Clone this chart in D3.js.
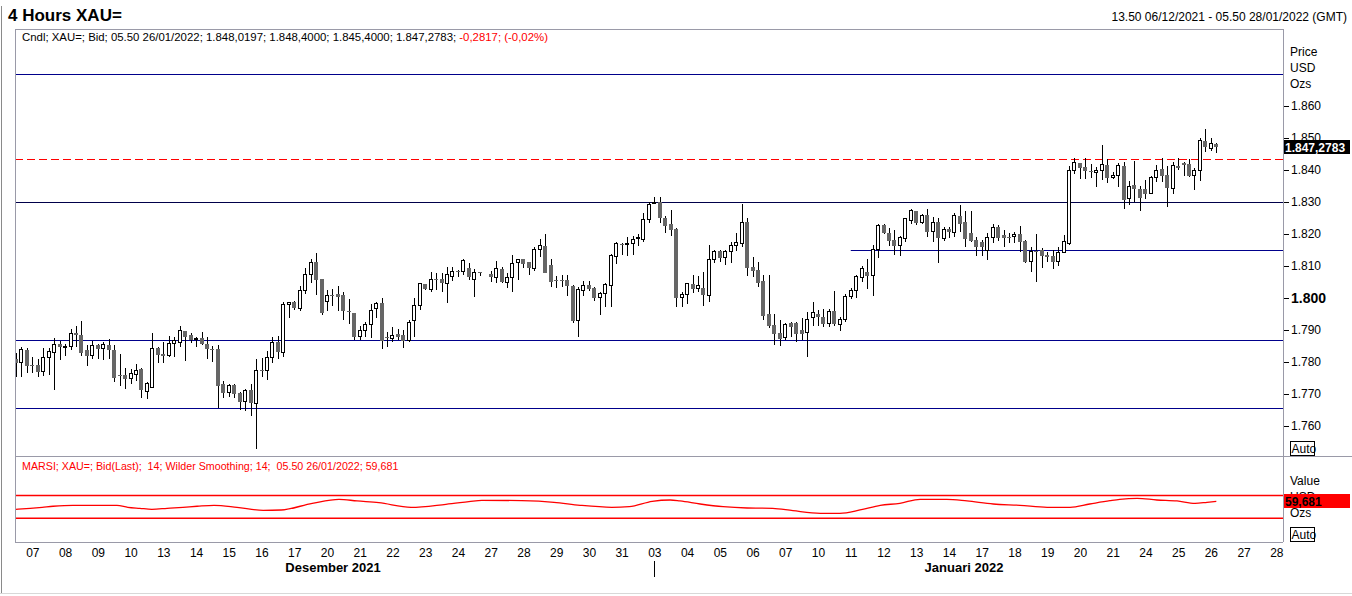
<!DOCTYPE html>
<html>
<meta charset="utf-8">
<script src="https://d3js.org/d3.v7.min.js"></script>
<style>
  body { margin: 0; background: #fff; }
  text { font-family: "Liberation Sans", Arial, sans-serif; }
</style>
<body>
<div id="chart"></div>
<script>
// 4H candles, one slot per candle (slot 86 is empty, end of 24 Dec)
var opens = [1781.0,1779.8,1783.8,1779.1,1779.1,1777.0,1781.5,1783.0,1785.6,1784.6,1784.8,1789.2,1788.5,1783.8,1782.0,1785.3,1784.2,1785.3,1783.8,1776.0,
1776.0,1774.7,1776.0,1777.8,1770.8,1772.1,1784.3,1782.5,1782.0,1785.9,1786.2,1789.7,1788.5,1787.1,1787.4,1785.6,1784.2,1784.1,1773.1,1770.4,
1772.8,1770.2,1767.6,1771.2,1767.1,1777.5,1777.3,1781.5,1786.2,1782.9,1798.0,1798.6,1796.8,1802.3,1807.4,1811.1,1805.8,1798.9,1801.0,1801.2,
1800.9,1796.0,1795.4,1787.9,1790.0,1791.8,1796.8,1798.3,1787.9,1787.4,1788.7,1788.4,1786.6,1792.9,1797.8,1804.4,1802.8,1805.8,1805.9,1804.6,
1806.7,1808.5,1808.2,1809.3,1805.8,1808.0,null,1807.5,1806.3,1809.1,1805.0,1806.5,1811.0,1812.1,1811.1,1809.1,1815.2,1816.3,1810.3,1805.5,
1805.6,1805.6,1803.9,1793.1,1802.3,1804.1,1803.2,1800.2,1801.3,1803.9,1812.9,1816.9,1816.6,1816.9,1818.6,1818.4,1824.6,1829.8,1830.1,1825.1,
1823.0,1821.6,1800.1,1801.2,1804.4,1803.0,1803.0,1800.9,1812.1,1814.7,1812.6,1814.5,1816.4,1817.1,1823.6,1809.8,1808.8,1805.3,1795.0,1791.6,
1789.2,1787.6,1792.3,1792.3,1790.0,1789.2,1794.0,1795.0,1794.0,1791.9,1795.9,1791.6,1793.4,1800.6,1802.3,1806.5,1808.2,1806.9,1815.2,1822.8,
1820.4,1818.1,1816.4,1818.7,1824.2,1827.2,1823.5,1825.9,1820.7,1823.7,1818.7,1821.6,1820.5,1825.6,1823.9,1820.4,1818.1,1817.6,1815.0,1818.9,
1822.1,1819.7,1819.0,1819.2,1820.0,1817.9,1811.4,1814.8,1815.0,1813.4,1813.2,1811.4,1814.3,1817.1,1839.8,1842.1,1840.8,1839.7,1839.3,1839.8,
1841.6,1837.6,1838.2,1841.3,1831.1,1835.3,1834.1,1834.1,1832.7,1837.7,1840.3,1838.4,1834.3,1841.3,1842.1,1841.9,1838.2,1839.8,1849.1,1846.8,
1848.02];
var highs = [1782.9,1784.8,1784.3,1781.5,1780.9,1784.3,1784.5,1787.4,1786.7,1785.6,1790.2,1791.3,1792.8,1785.3,1786.7,1785.5,1786.1,1787.2,1785.3,1782.5,
1778.0,1777.7,1779.4,1778.0,1773.6,1789.2,1784.8,1786.1,1788.1,1787.7,1791.3,1789.7,1789.0,1787.7,1789.4,1787.9,1785.0,1785.3,1774.2,1773.1,
1773.1,1770.7,1771.6,1773.0,1780.8,1781.1,1783.5,1787.9,1788.1,1798.8,1798.8,1799.2,1803.8,1809.5,1812.2,1814.0,1805.8,1802.5,1802.7,1803.7,
1801.8,1799.6,1795.4,1791.2,1792.6,1798.1,1798.8,1799.9,1789.5,1791.0,1790.2,1790.0,1793.1,1799.9,1804.8,1804.4,1808.0,1807.7,1807.7,1809.6,
1809.6,1808.7,1812.2,1811.0,1809.0,1808.2,null,1808.4,1811.6,1809.8,1807.7,1813.4,1812.2,1812.2,1811.4,1816.0,1818.4,1820.0,1812.2,1806.9,
1807.2,1807.2,1804.1,1803.5,1805.3,1805.3,1803.5,1802.0,1804.8,1813.9,1817.4,1817.1,1819.2,1819.4,1820.0,1826.5,1830.1,1831.5,1831.5,1825.6,
1827.5,1821.8,1802.0,1804.6,1807.2,1807.0,1808.0,1816.6,1815.0,1815.0,1815.0,1817.4,1820.2,1829.4,1825.1,1812.9,1811.2,1807.2,1807.2,1795.0,
1793.1,1792.1,1792.6,1792.6,1793.7,1795.7,1798.6,1796.2,1796.5,1796.5,1802.2,1794.2,1801.2,1803.2,1807.2,1810.0,1812.1,1816.6,1823.0,1823.0,
1821.8,1821.3,1819.4,1825.1,1827.8,1827.3,1826.3,1827.8,1825.4,1825.1,1822.1,1822.3,1826.7,1829.1,1827.2,1827.2,1819.0,1818.1,1820.4,1823.1,
1822.8,1821.3,1820.4,1820.5,1822.5,1818.1,1816.0,1819.9,1815.7,1814.5,1815.0,1816.0,1819.7,1841.4,1843.6,1842.3,1843.9,1841.9,1841.0,1847.8,
1843.3,1839.5,1842.1,1842.6,1836.7,1842.9,1835.0,1836.9,1838.1,1841.6,1843.9,1841.4,1842.6,1843.9,1842.6,1843.4,1840.5,1849.9,1852.8,1849.9,
1848.40];
var lows = [1775.4,1775.2,1776.7,1776.7,1775.4,1775.6,1776.0,1771.1,1780.6,1781.9,1783.6,1784.6,1781.9,1778.6,1781.0,1780.9,1780.6,1780.9,1773.6,1772.5,
1771.5,1773.2,1774.2,1768.9,1768.4,1772.1,1779.8,1779.6,1781.7,1781.7,1784.8,1780.4,1785.9,1784.6,1785.3,1780.8,1780.1,1765.5,1768.6,1769.0,
1768.6,1765.0,1764.8,1763.2,1752.8,1775.2,1774.4,1779.6,1780.9,1781.7,1793.6,1796.3,1796.0,1801.1,1804.6,1800.9,1794.7,1796.0,1797.6,1796.0,
1793.1,1791.8,1786.9,1786.9,1787.9,1787.4,1793.9,1784.0,1784.8,1786.4,1786.9,1784.3,1786.4,1787.9,1796.2,1802.5,1802.0,1802.5,1802.0,1798.3,
1805.4,1806.5,1807.2,1805.6,1800.4,1806.9,null,1805.1,1804.8,1804.6,1803.2,1802.0,1805.6,1809.3,1807.2,1808.5,1812.7,1807.9,1803.5,1803.0,
1803.5,1800.6,1792.3,1787.9,1800.6,1802.3,1799.1,1794.7,1797.3,1797.3,1810.6,1813.4,1813.1,1813.4,1816.4,1817.6,1823.3,1829.4,1823.3,1820.2,
1819.5,1797.1,1797.3,1798.1,1801.6,1802.0,1797.6,1798.9,1811.0,1811.4,1810.3,1811.0,1814.8,1816.0,1807.0,1806.7,1803.5,1793.1,1790.7,1785.3,
1785.1,1786.9,1787.9,1786.1,1786.9,1781.7,1791.3,1791.3,1790.9,1791.0,1791.3,1789.8,1792.6,1799.6,1799.9,1805.1,1802.8,1800.6,1812.4,1819.9,
1816.4,1813.4,1813.1,1817.6,1823.0,1822.8,1823.0,1819.2,1817.6,1811.0,1817.8,1818.7,1819.2,1820.5,1816.0,1817.5,1813.2,1813.2,1811.9,1817.1,
1817.8,1816.0,1817.1,1817.1,1814.3,1810.8,1808.0,1804.9,1809.3,1811.4,1809.1,1810.1,1814.2,1816.6,1838.7,1837.1,1837.2,1837.4,1834.8,1836.9,
1836.0,1837.1,1834.8,1827.8,1829.1,1829.9,1827.3,1830.9,1832.5,1836.4,1836.4,1828.3,1832.4,1840.0,1838.2,1837.7,1833.8,1836.7,1845.7,1846.0,
1845.40];
var closes = [1779.8,1784.0,1778.6,1778.6,1777.0,1781.5,1783.3,1785.6,1784.8,1785.0,1789.0,1788.3,1782.9,1782.0,1785.3,1784.1,1785.6,1783.8,1774.9,1775.7,
1774.6,1776.3,1777.5,1771.1,1773.4,1784.3,1782.2,1782.0,1785.9,1786.7,1789.7,1787.9,1787.0,1787.5,1785.6,1784.1,1784.0,1772.6,1770.4,1772.6,
1770.0,1767.6,1771.2,1767.3,1777.5,1777.3,1781.5,1786.2,1783.2,1798.1,1798.6,1797.0,1802.3,1807.4,1811.1,1805.6,1795.4,1800.9,1800.8,1800.4,
1796.0,1795.5,1787.9,1790.0,1791.8,1796.2,1798.3,1786.6,1787.7,1788.4,1787.9,1786.6,1792.4,1797.8,1804.4,1802.8,1805.8,1805.6,1804.6,1807.2,
1808.4,1808.3,1811.6,1806.5,1808.0,1807.7,null,1806.5,1809.1,1805.1,1806.5,1810.8,1812.1,1810.6,1809.5,1815.2,1816.3,1807.9,1805.1,1805.3,
1805.2,1803.9,1792.8,1802.7,1803.9,1802.7,1799.9,1801.5,1804.3,1813.4,1816.9,1816.6,1817.1,1818.3,1818.9,1824.6,1829.1,1830.0,1824.9,1822.6,
1821.3,1799.9,1801.2,1804.4,1802.8,1803.8,1800.9,1812.1,1814.5,1812.4,1814.5,1816.4,1817.4,1823.6,1809.5,1808.4,1804.6,1794.5,1791.3,1788.8,
1787.2,1791.6,1790.8,1788.6,1788.8,1793.3,1795.5,1794.0,1791.9,1795.9,1791.8,1793.4,1800.6,1802.5,1806.7,1809.1,1807.0,1815.2,1822.8,1820.4,
1817.9,1816.4,1819.0,1824.7,1827.3,1823.5,1825.9,1820.7,1823.7,1818.9,1821.3,1820.5,1825.7,1823.1,1818.4,1817.8,1816.0,1816.0,1819.0,1822.1,
1818.9,1818.9,1818.9,1820.0,1817.6,1811.4,1814.5,1814.5,1813.2,1812.9,1811.4,1814.3,1817.8,1840.0,1842.4,1840.7,1839.8,1839.5,1840.0,1841.6,
1837.4,1838.4,1841.3,1830.6,1835.0,1834.0,1831.4,1832.5,1837.7,1839.7,1838.2,1834.5,1841.3,1840.7,1841.6,1838.2,1839.8,1849.1,1847.1,1848.3,
1847.28];

// smoothed RSI, read at these slots
var rsiSlot = [0,2.6,4.8,6.8,10.4,18.5,20.5,22.7,24.9,27.7,30.6,33.2,36.3,40.5,45.3,48.6,54.3,59.2,62.5,66.5,72.4,78.8,83,85.4,92.7,98.6,103.4,109.2,112.4,116.6,
119.9,121.7,125.4,129.6,134,138.7,142.4,147.4,151,154.7,158.4,162,165.7,170.6,174.3,179.1,184,189,193.2,196.8,200.5,202.3,205.5,209.1,212.8,216.1,218.3,220];
var rsiValue = [45.8,47.5,49.3,51.1,52.8,52.8,49.3,47.5,45.8,47.5,49.3,51.1,52.8,49.3,44.0,44.6,56.3,63.3,60.4,57.4,49.3,54.6,59.1,61.6,60.9,58.1,52.8,49.3,50.4,59.8,
62.1,60.4,55.1,50.4,48.1,47.5,43.3,38.8,38.8,44.6,52.8,56.3,63.3,63.3,60.4,55.1,52.8,49.3,49.3,55.1,60.9,63.3,65.1,62.1,60.4,56.3,58.1,59.681];

var dayLabels = ["07","08","09","10","13","14","15","16","17","20","21","22","23","24","27","28","29","30","31",
"03","04","05","06","07","10","11","12","13","14","17","18","19","20","21","24","25","26","27","28"];
var priceTicks = [1760,1770,1780,1790,1800,1810,1820,1830,1840,1850,1860];
var levelPrice = [1870, 1830, 1815, 1786.9, 1765.5];
var levelFrom = [-5, -5, 153, -5, -5];
var dashedPrice = 1843.4;
var lastPrice = 1847.2783, lastRsi = 59.681;

var W = 1352, H = 596;
var plotL = 15, plotR = 1283, plotT = 29, plotM = 456, plotB = 542;

var svg = d3.select("#chart").append("svg")
    .attr("width", W).attr("height", H)
    .style("display", "block");

var x = d3.scaleLinear().domain([0, 220]).range([16, 16 + 220 * 5.456]);
var y = d3.scaleLinear().domain([1800, 1860]).range([298, 106]);
var yr = d3.scaleLinear().domain([30, 70]).range([518.3, 495.5]);

var loc = d3.formatLocale({decimal: ",", thousands: ".", grouping: [3], currency: ["", ""]});
var fmt = loc.format(",");

svg.append("defs").append("clipPath").attr("id", "clipMain")
  .append("rect").attr("x", plotL).attr("y", plotT).attr("width", plotR - plotL).attr("height", plotM - plotT);

// window border
svg.append("line").attr("x1", 1.5).attr("x2", 1.5).attr("y1", 6).attr("y2", 594).attr("stroke", "#8a8a8a");
svg.append("line").attr("x1", 0).attr("x2", W).attr("y1", 593.5).attr("y2", 593.5).attr("stroke", "#d8d8d8");

// header
svg.append("text").attr("x", 8).attr("y", 21).attr("font-size", "17px").attr("font-weight", "bold").text("4 Hours XAU=");
svg.append("text").attr("x", 1347).attr("y", 21).attr("text-anchor", "end").attr("font-size", "12px")
    .text("13.50 06/12/2021 - 05.50 28/01/2022 (GMT)");

var main = svg.append("g").attr("clip-path", "url(#clipMain)");

// level lines
main.selectAll(".level").data(levelPrice).enter().append("line")
    .attr("x1", function(d, i) { return Math.max(plotL, x(levelFrom[i])); })
    .attr("x2", plotR)
    .attr("y1", function(d) { return Math.round(y(d)) + 0.5; })
    .attr("y2", function(d) { return Math.round(y(d)) + 0.5; })
    .attr("stroke", function(d) { return d === 1830 ? "#00004a" : "#00008b"; })
    .attr("stroke-width", 1.2);

main.append("line")
    .attr("x1", plotL).attr("x2", plotR)
    .attr("y1", Math.round(y(dashedPrice)) + 0.5).attr("y2", Math.round(y(dashedPrice)) + 0.5)
    .attr("stroke", "#ff0000").attr("stroke-dasharray", "8,4");

// candles
var idx = d3.range(opens.length).filter(function(i) { return opens[i] != null; });
var cg = main.append("g").attr("shape-rendering", "crispEdges");

cg.selectAll(".wick").data(idx).enter().append("line")
    .attr("x1", function(i) { return Math.round(x(i)) + 0.5; })
    .attr("x2", function(i) { return Math.round(x(i)) + 0.5; })
    .attr("y1", function(i) { return y(highs[i]); })
    .attr("y2", function(i) { return y(lows[i]); })
    .attr("stroke", "#000");

cg.selectAll(".body").data(idx).enter().append("rect")
    .attr("x", function(i) { return closes[i] >= opens[i] ? Math.round(x(i)) - 1.5 : Math.round(x(i)) - 2; })
    .attr("width", function(i) { return closes[i] >= opens[i] ? 3 : 4; })
    .attr("y", function(i) { return y(Math.max(opens[i], closes[i])); })
    .attr("height", function(i) { return Math.max(1, Math.abs(y(opens[i]) - y(closes[i]))); })
    .attr("fill", function(i) { return closes[i] >= opens[i] ? "#fff" : "#666"; })
    .attr("stroke", function(i) { return closes[i] >= opens[i] ? "#000" : "none"; });

// rsi panel
svg.selectAll(".rsiband").data([70, 30]).enter().append("line")
    .attr("x1", plotL).attr("x2", plotR)
    .attr("y1", function(d) { return yr(d); }).attr("y2", function(d) { return yr(d); })
    .attr("stroke", "#ff0000").attr("stroke-width", 1.5);

var rsiLine = d3.line()
    .x(function(d, i) { return x(rsiSlot[i]); })
    .y(function(d) { return yr(d); })
    .curve(d3.curveMonotoneX);
svg.append("path").datum(rsiValue).attr("d", rsiLine)
    .attr("fill", "none").attr("stroke", "#ff0000").attr("stroke-width", 1.3);

// frames
var frame = svg.append("g").attr("stroke", "#9a9aa8").attr("shape-rendering", "crispEdges");
frame.append("line").attr("x1", plotL).attr("x2", plotR).attr("y1", plotT).attr("y2", plotT);
frame.append("line").attr("x1", plotL).attr("x2", plotL).attr("y1", plotT).attr("y2", plotB);
frame.append("line").attr("x1", plotR).attr("x2", plotR).attr("y1", plotT).attr("y2", plotB);
frame.append("line").attr("x1", plotL).attr("x2", W).attr("y1", plotM).attr("y2", plotM);
frame.append("line").attr("x1", plotL).attr("x2", plotR).attr("y1", plotB).attr("y2", plotB);

// info lines
var info = svg.append("text").attr("x", 22).attr("y", 41).attr("font-size", "11.4px");
info.append("tspan").attr("fill", "#000")
    .text("Cndl; XAU=; Bid; 05.50 26/01/2022; 1.848,0197; 1.848,4000; 1.845,4000; 1.847,2783; ");
info.append("tspan").attr("fill", "#ff0000").text("-0,2817; (-0,02%)");
svg.append("text").attr("x", 22).attr("y", 470).attr("font-size", "10.7px").attr("fill", "#ff0000")
    .style("white-space", "pre")
    .text("MARSI; XAU=; Bid(Last);  14; Wilder Smoothing; 14;  05.50 26/01/2022; 59,681");

// price axis
var yAxis = svg.append("g").attr("transform", "translate(1284,0)")
    .call(d3.axisRight(y).tickValues(priceTicks).tickSize(5).tickPadding(2).tickFormat(fmt));
yAxis.select(".domain").remove();
yAxis.selectAll("text").attr("font-size", "12px").attr("font-family", "Liberation Sans, Arial, sans-serif").attr("fill", "#000");
yAxis.selectAll(".tick").filter(function(d) { return d === 1800; }).select("text")
    .attr("font-size", "14px").attr("font-weight", "bold");

["Price", "USD", "Ozs"].forEach(function(t, i) {
  svg.append("text").attr("x", 1290).attr("y", 56 + i * 16).attr("font-size", "12px").text(t);
});
["Value", "USD", "Ozs"].forEach(function(t, i) {
  svg.append("text").attr("x", 1290).attr("y", 485 + i * 16).attr("font-size", "12px").text(t);
});

function autoBox(yy) {
  svg.append("rect").attr("x", 1290.5).attr("y", yy + 0.5).attr("width", 24).attr("height", 14)
      .attr("fill", "#fff").attr("stroke", "#000");
  svg.append("text").attr("x", 1291.5).attr("y", yy + 12).attr("font-size", "12px").text("Auto");
}
autoBox(441);
autoBox(527);

// last value boxes
svg.append("rect").attr("x", 1284).attr("y", Math.round(y(lastPrice)) - 7).attr("width", 66).attr("height", 14).attr("fill", "#000");
svg.append("text").attr("x", 1285).attr("y", Math.round(y(lastPrice)) + 5).attr("font-size", "12px")
    .attr("font-weight", "bold").attr("fill", "#fff").text(loc.format(",.4f")(lastPrice));
svg.append("rect").attr("x", 1284).attr("y", Math.round(yr(lastRsi)) - 7).attr("width", 66).attr("height", 14).attr("fill", "#ff0000");
svg.append("text").attr("x", 1285).attr("y", Math.round(yr(lastRsi)) + 5).attr("font-size", "12px")
    .attr("font-weight", "bold").attr("fill", "#000").text(loc.format(".3f")(lastRsi));

// time axis
var xAxis = svg.append("g").attr("transform", "translate(0," + plotB + ")")
    .call(d3.axisBottom(x).tickValues(dayLabels.map(function(d, k) { return 6 * k + 3; }))
        .tickSize(0).tickPadding(6).tickFormat(function(d, i) { return dayLabels[i]; }));
xAxis.select(".domain").remove();
xAxis.selectAll("text").attr("font-size", "12px").attr("font-family", "Liberation Sans, Arial, sans-serif").attr("fill", "#000");

svg.append("text").attr("x", 333).attr("y", 572).attr("text-anchor", "middle")
    .attr("font-size", "13px").attr("font-weight", "bold").text("Desember 2021");
svg.append("text").attr("x", 964).attr("y", 572).attr("text-anchor", "middle")
    .attr("font-size", "13px").attr("font-weight", "bold").text("Januari 2022");
svg.append("line").attr("x1", Math.round(x(117)) + 0.5).attr("x2", Math.round(x(117)) + 0.5)
    .attr("y1", 561).attr("y2", 577).attr("stroke", "#000");
</script>
</body>
</html>
